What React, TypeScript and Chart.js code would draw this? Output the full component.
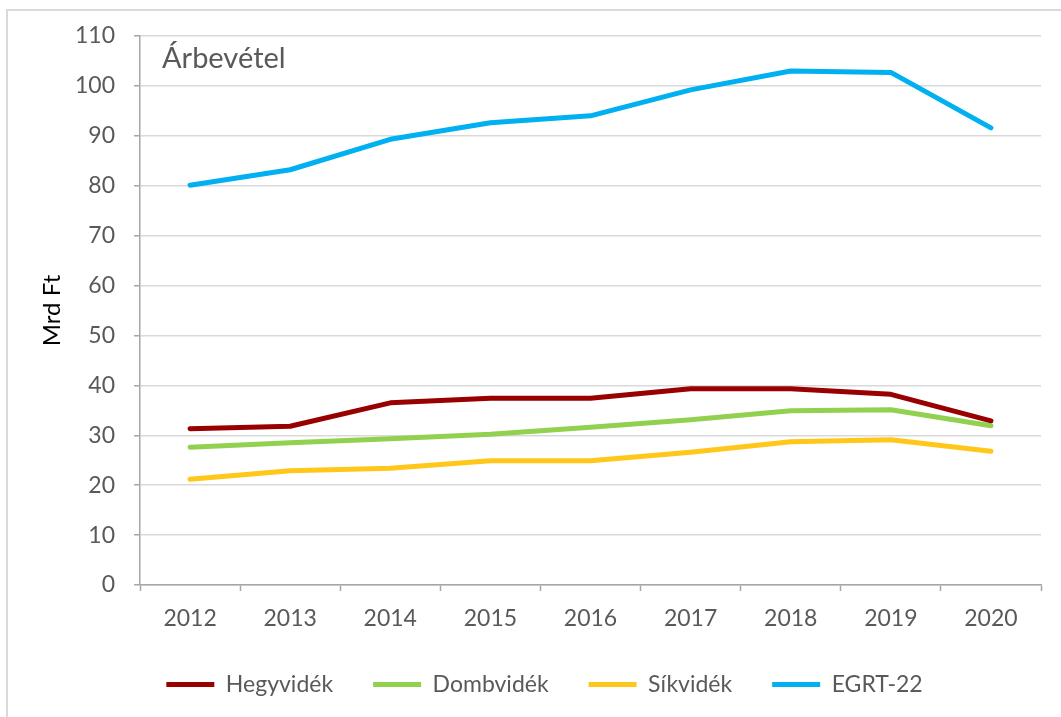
import React, { useEffect, useRef } from 'react';
import { Chart, registerables } from 'chart.js';

Chart.register(...registerables);

const chartTitle = 'Árbevétel';
const axisTitle = 'Mrd Ft';
const years = ['2012', '2013', '2014', '2015', '2016', '2017', '2018', '2019', '2020'];
const hegyvidek = [31.3, 31.8, 36.5, 37.4, 37.4, 39.3, 39.3, 38.2, 32.9];
const dombvidek = [27.6, 28.5, 29.3, 30.2, 31.6, 33.1, 34.9, 35.1, 31.9];
const sikvidek = [21.2, 22.9, 23.4, 24.9, 24.9, 26.6, 28.7, 29.1, 26.8];
const egrt22 = [80.1, 83.2, 89.3, 92.6, 94.0, 99.2, 103.0, 102.7, 91.6];
const seriesNames = ['Hegyvidék', 'Dombvidék', 'Síkvidék', 'EGRT-22'];
const seriesColors = ['#990000', '#92D050', '#FFC71A', '#00B0F0'];

const FONT = 'Lato, "Open Sans", sans-serif';

export default function App() {
  const ref = useRef<HTMLCanvasElement>(null);

  useEffect(() => {
    const titlePlugin = {
      id: 'innerTitle',
      afterLayout(chart: any) {
        if (chart.legend) {
          chart.legend.left += 24;
          chart.legend.right += 24;
        }
      },
      afterDraw(chart: any) {
        const ctx = chart.ctx;
        ctx.save();
        ctx.font = `29px ${FONT}`;
        ctx.fillStyle = '#595959';
        ctx.textBaseline = 'alphabetic';
        ctx.textAlign = 'left';
        ctx.fillText(chartTitle, 162, 68);
        ctx.restore();
      },
    };
    const values = [hegyvidek, dombvidek, sikvidek, egrt22];
    const chart = new Chart(ref.current as HTMLCanvasElement, {
      type: 'line',
      data: {
        labels: years,
        datasets: values.map((v, i) => ({
          label: seriesNames[i],
          data: v,
          borderColor: seriesColors[i],
          backgroundColor: seriesColors[i],
          borderWidth: 5,
          borderCapStyle: 'round',
          borderJoinStyle: 'round',
          pointRadius: 0,
          pointHoverRadius: 0,
          tension: 0,
          fill: false,
        })),
      },
      options: {
        animation: false,
        responsive: false,
        maintainAspectRatio: false,
        layout: { padding: { left: 0, right: 20, top: 36, bottom: 11 } },
        plugins: {
          legend: {
            position: 'bottom',
            labels: {
              usePointStyle: true,
              pointStyle: 'line',
              pointStyleWidth: 48,
              font: { family: FONT, size: 23 },
              color: '#595959',
              padding: 40,
            },
          },
          tooltip: { enabled: false },
        },
        scales: {
          x: {
            type: 'category',
            offset: true,
            grid: {
              display: true,
              drawOnChartArea: false,
              drawTicks: true,
              tickLength: 6,
              tickColor: '#A6A6A6',
              tickWidth: 1.5,
              offset: true,
            },
            border: { color: '#A6A6A6', width: 1.5 },
            ticks: {
              color: '#595959',
              font: { family: FONT, size: 23 },
              padding: 14,
              maxRotation: 0,
              autoSkip: false,
            },
            afterFit: (s: any) => {
              s.height = 48;
            },
          },
          y: {
            min: 0,
            max: 110,
            ticks: {
              stepSize: 10,
              color: '#595959',
              font: { family: FONT, size: 23 },
              padding: 19,
            },
            grid: {
              color: '#D9D9D9',
              lineWidth: 1.5,
              tickColor: '#A6A6A6',
              tickWidth: 1.5,
              tickLength: 6,
            },
            border: { color: '#A6A6A6', width: 1.5 },
            title: {
              display: true,
              text: axisTitle,
              color: '#000000',
              font: { family: FONT, size: 24 },
              padding: { top: 38, bottom: 0 },
            },
            afterFit: (s: any) => {
              s.width = 140;
            },
          },
        },
      } as any,
      plugins: [titlePlugin],
    });
    return () => chart.destroy();
  }, []);

  return (
    <div style={{ position: 'fixed', left: 0, top: 0, width: 1061, height: 717, overflow: 'hidden', background: '#fff' }}>
      <div
        style={{
          position: 'absolute',
          left: 6,
          top: 9,
          width: 1100,
          height: 800,
          borderTop: '2px solid #D9D9D9',
          borderLeft: '2px solid #D9D9D9',
        }}
      />
      <canvas
        ref={ref}
        width={1061}
        height={717}
        style={{ position: 'absolute', left: 0, top: 0, width: 1061, height: 717 }}
      />
    </div>
  );
}
